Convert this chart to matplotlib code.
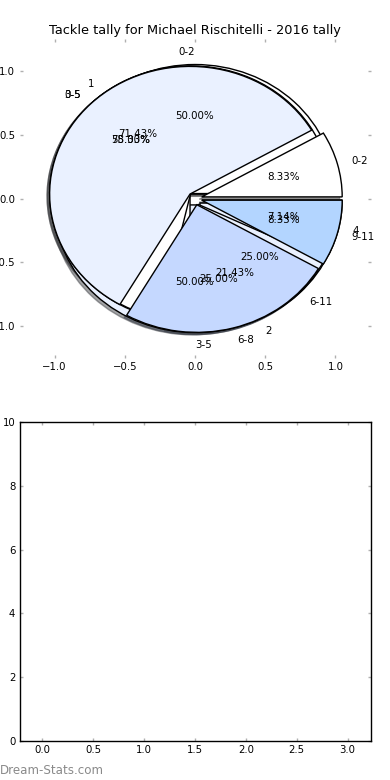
import matplotlib.pyplot as plt

# pie data (four pies drawn on top of each other)
labels_c = ['0-2', '3-5']
values_c = [1, 1]
labels_d = ['0-5', '6-11']
values_d = [3, 1]
labels_b = ['1', '2', '4']
values_b = [10, 3, 1]
labels_a = ['0-2', '3-5', '6-8', '9-11']
values_a = [1, 7, 3, 1]

# empty bar chart below
bar_x = [0, 1, 2, 3]
bar_heights = [0, 0, 0, 0]

colors = ['#ffffff', '#eaf1ff', '#c5d8ff', '#b3d5ff']
pie_ticks = [-1.0, -0.5, 0.0, 0.5, 1.0]

fig, (ax1, ax2) = plt.subplots(2, 1, figsize=(3.9, 7.8), dpi=100)
plt.subplots_adjust(left=0.05, right=0.95, top=0.95, bottom=0.05, hspace=0.2)

for labels, values in [(labels_c, values_c), (labels_d, values_d),
                       (labels_b, values_b), (labels_a, values_a)]:
    ax1.pie(values, labels=labels, colors=colors[:len(values)],
            explode=[0.05] * len(values), autopct='%1.2f%%',
            shadow={'ox': -0.013, 'oy': -0.013},
            startangle=0, wedgeprops=dict(edgecolor='black', linewidth=1),
            textprops=dict(fontsize=7.4))

ax1.set_aspect('auto')
ax1.set_xlim(-1.25, 1.25)
ax1.set_ylim(-1.25, 1.25)
ax1.set_xticks(pie_ticks)
ax1.set_yticks(pie_ticks)
ax1.set_frame_on(False)
ax1.set_title('Tackle tally for Michael Rischitelli - 2016 tally', fontsize=9.3, pad=3.5)

ax2.bar(bar_x, bar_heights, width=0.45, linewidth=0)
ax2.set_xlim(min(bar_x) - 0.225, max(bar_x) + 0.225)
ax2.set_ylim(0, 10)
ax2.set_xticks([0, 0.5, 1, 1.5, 2, 2.5, 3])
for sp in ax2.spines.values():
    sp.set_color('black')
    sp.set_linewidth(1)

for ax in (ax1, ax2):
    ax.tick_params(direction='in', color='#b0b0b0', length=2.5, width=1,
                   top=True, right=True, labelsize=7.3, pad=3)

fig.text(0.0, 1 - 774 / 780, 'Dream-Stats.com', color='#8a8a8a', fontsize=8.6,
         ha='left', va='baseline')

plt.savefig('out.png', dpi=100)
